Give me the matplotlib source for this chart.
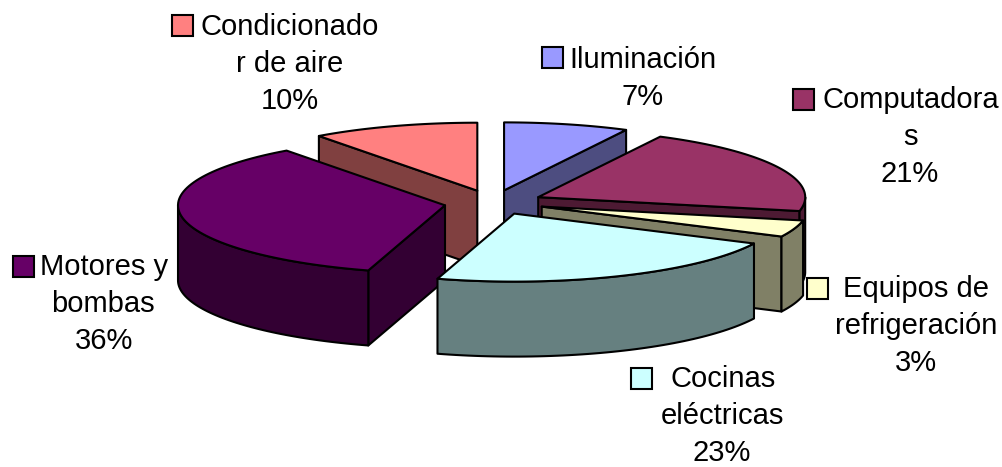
import numpy as np
import matplotlib
matplotlib.use("Agg")
import matplotlib.pyplot as plt
from matplotlib.patches import Polygon, Rectangle

plt.rcParams['font.family'] = ['Liberation Sans', 'DejaVu Sans']

# Data
categories = ["Iluminación", "Computadoras", "Equipos de refrigeración",
              "Cocinas eléctricas", "Motores y bombas", "Condicionador de aire"]
values = [7, 21, 3, 23, 36, 10]
top_colors = ["#9999FF", "#993366", "#FFFFCC", "#CCFFFF", "#660066", "#FF8080"]
side_colors = ["#4D4D80", "#4D1A33", "#808066", "#668080", "#330033", "#804040"]

# Label layout: wrapped lines as (text, centre x), first-line centre y, key box
label_lines = [
    [("Iluminación", 643), ("7%", 643)],
    [("Computadora", 911), ("s", 910), ("21%", 910)],
    [("Equipos de", 916), ("refrigeración", 916), ("3%", 916)],
    [("Cocinas", 723), ("eléctricas", 722), ("23%", 722)],
    [("Motores y", 104), ("bombas", 103), ("36%", 104)],
    [("Condicionado", 290), ("r de aire", 290), ("10%", 290)],
]
label_y = [60, 100, 289, 379, 267, 27]
key_xy = [(542, 47), (793, 88.5), (807, 278), (631.5, 368), (13, 256), (172, 15)]
line_step = 37
key_size = 21

# Pie geometry in pixels
CX, CY, RX, RY = 493, 203, 267, 68
explode = [0.19, 0.19, 0.19, 0.175, 0.183, 0.19]
DEPTH = 75
draw_order = [5, 0, 1, 2, 4, 3]
# view distortion of the 3-D renderer: angle (deg) -> correction (deg)
warp_at = [0, 25.2, 100.8, 111.6, 194.4, 324, 360]
warp_by = [0, 2.0, 1.0, 4.5, 2.3, -0.4, 0]

fig = plt.figure(figsize=(10.03, 4.67), dpi=100)
ax = fig.add_axes([0, 0, 1, 1])
ax.set_xlim(0, 1003)
ax.set_ylim(467, 0)
ax.axis("off")

fractions = np.array(values, float) / sum(values)
edges = np.concatenate([[0], np.cumsum(fractions)]) * 2 * np.pi
true_mid = (edges[:-1] + edges[1:]) / 2
edges = edges + np.radians(np.interp(np.degrees(edges), warp_at, warp_by))


def face(pts, color, z):
    ax.add_patch(Polygon(pts, closed=True, facecolor=color, edgecolor="black",
                         linewidth=1.5, joinstyle="round", zorder=z))


for rank, i in enumerate(draw_order):
    a0, a1 = edges[i], edges[i + 1]
    mid = true_mid[i]
    ox = CX + explode[i] * RX * np.sin(mid)
    oy = CY - explode[i] * RY * np.cos(mid)
    th = np.linspace(a0, a1, 80)
    rim = np.column_stack([ox + RX * np.sin(th), oy - RY * np.cos(th)])
    apex = np.array([ox, oy])
    down = np.array([0, DEPTH])
    z = 2 + rank
    # radial walls
    if np.sin(a0) < -1e-6:
        p = rim[0]
        face([apex, p, p + down, apex + down], side_colors[i], z)
    if np.sin(a1) > 1e-6:
        p = rim[-1]
        face([apex, p, p + down, apex + down], side_colors[i], z)
    # front part of the outer wall
    lo, hi = max(a0, np.pi / 2), min(a1, 3 * np.pi / 2)
    if hi > lo:
        t = np.linspace(lo, hi, 60)
        r = np.column_stack([ox + RX * np.sin(t), oy - RY * np.cos(t)])
        face(np.vstack([r, (r + down)[::-1]]), side_colors[i], z)
    # top
    face(np.vstack([apex, rim]), top_colors[i], z)

for i, lines in enumerate(label_lines):
    for k, (txt, x) in enumerate(lines):
        ax.text(x, label_y[i] + k * line_step, txt, ha="center", va="center",
                fontsize=21, color="black", zorder=20)
    kx, ky = key_xy[i]
    ax.add_patch(Rectangle((kx, ky), key_size, key_size, facecolor=top_colors[i],
                           edgecolor="black", linewidth=1.5, zorder=20))

fig.savefig("out.png", dpi=100, facecolor="white")
